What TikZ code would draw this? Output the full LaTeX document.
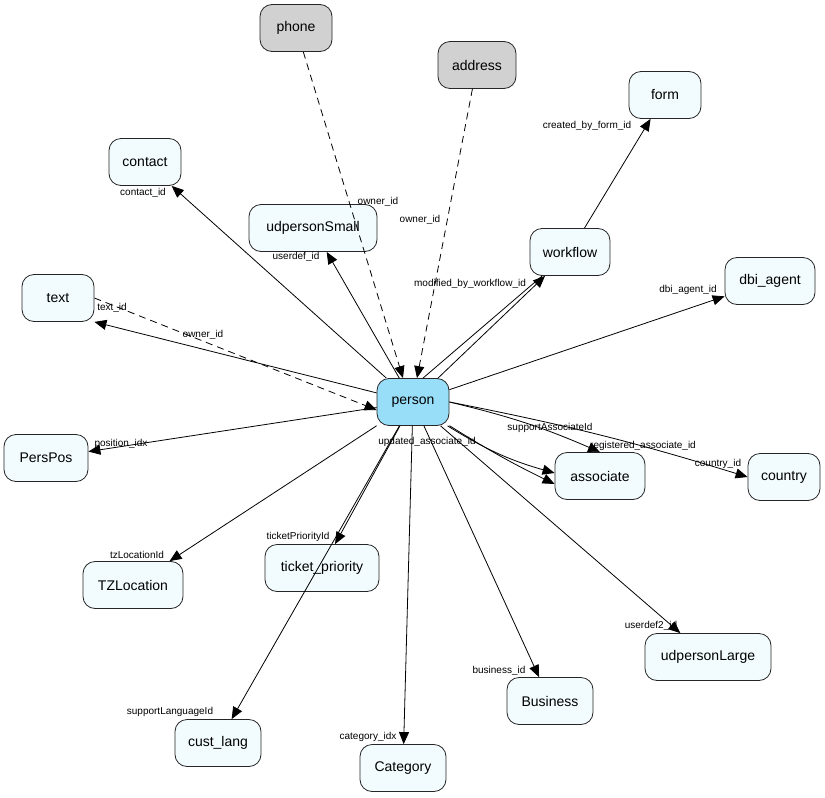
\documentclass[tikz,border=0pt]{standalone}
\usepackage{fontspec}
\setmainfont{Liberation Sans}
\usetikzlibrary{arrows.meta}
\begin{document}
\begin{tikzpicture}[x=1pt,y=-1pt,
 tb/.style={draw=black!85,line width=0.8pt,rounded corners=12pt,fill=cyan!5,minimum height=47pt,font=\fontsize{14}{16}\selectfont,inner sep=2pt},
 gr/.style={tb,fill=black!18},
 ed/.style={-{Triangle[length=12pt,width=10pt]},black,line width=0.8pt},
 da/.style={ed,dash pattern=on 7pt off 5pt},
 lb/.style={font=\fontsize{10}{11}\selectfont,inner sep=0pt}]
\useasboundingbox (0,0) rectangle (825,798);
\node[gr,minimum width=72pt] (phone) at (296,28) {phone};
\node[gr,minimum width=78pt] (address) at (477,65) {address};
\node[tb,minimum width=72pt] (form) at (665,95) {form};
\node[tb,minimum width=72pt] (contact) at (145,162) {contact};
\node[tb,minimum width=128pt] (uds) at (313,228) {udpersonSmall};
\node[tb,minimum width=80pt] (workflow) at (570,252) {workflow};
\node[tb,minimum width=90pt] (dbi) at (770,281) {dbi\_agent};
\node[tb,minimum width=72pt] (text) at (58,298) {text};
\node[tb,minimum width=72pt,fill=cyan!40] (person) at (413,402) {person};
\node[tb,minimum width=84pt] (perspos) at (46,458) {PersPos};
\node[tb,minimum width=90pt] (assoc) at (600,476) {associate};
\node[tb,minimum width=72pt] (country) at (784,477) {country};
\node[tb,minimum width=100pt] (tz) at (133,585) {TZLocation};
\node[tb,minimum width=114pt] (tp) at (322,568) {ticket\_priority};
\node[tb,minimum width=126pt] (udl) at (708,657) {udpersonLarge};
\node[tb,minimum width=86pt] (bus) at (550,701) {Business};
\node[tb,minimum width=86pt] (cl) at (218,743) {cust\_lang};
\node[tb,minimum width=86pt] (cat) at (403,768) {Category};

\draw[da] (phone) -- ([xshift=-10pt]person.north);
\draw[da] (address) -- ([xshift=4pt]person.north);
\draw[da] (text.east) -- ([yshift=-8pt]person.west);
\draw[ed] (person) -- (contact);
\draw[ed] (person) -- (uds);
\draw[ed] (person) -- (text.south east);
\draw[ed] (person) -- (workflow);
\draw[black,line width=0.8pt] ([xshift=10pt]person.north) -- (workflow);
\draw[ed] (workflow) -- (form);
\draw[ed] (person) -- (dbi);
\draw[ed] (person) -- (perspos);
\draw[ed] (person.east) to[bend left=5] (assoc.north);
\draw[ed] (person) to[bend right=3] ([yshift=-8pt]assoc.west);
\draw[ed] (person) to[bend right=8] ([yshift=3pt]assoc.west);
\draw[ed] (person.east) to[bend left=3] (country.west);
\draw[ed] (person) -- (tz);
\draw[ed] (person) -- (tp);
\draw[ed] (person) -- (cl);
\draw[ed] (person) -- (cat);
\draw[ed] (person) -- (bus);
\draw[ed] (person) -- (udl);

\node[lb] (l1) at (378,202) {owner\_id};
\node[lb] (l2) at (420,220) {owner\_id};
\node[lb] (l3) at (587,126) {created\_by\_form\_id};
\node[lb] (l4) at (143,193) {contact\_id};
\node[lb] (l5) at (296,257) {userdef\_id};
\node[lb] (l6) at (470,284) {modified\_by\_workflow\_id};
\node[lb] (l7) at (688,290) {dbi\_agent\_id};
\node[lb] (l8) at (112,308) {text\_id};
\node[lb] (l9) at (203,335) {owner\_id};
\node[lb] (l10) at (121,444) {position\_idx};
\node[lb] (l11) at (550,428) {supportAssociateId};
\node[lb] (l12) at (427,442) {updated\_associate\_id};
\node[lb] (l13) at (643,446) {registered\_associate\_id};
\node[lb] (l14) at (718,464) {country\_id};
\node[lb] (l15) at (137,555) {tzLocationId};
\node[lb] (l16) at (298,537) {ticketPriorityId};
\node[lb] (l17) at (651,626) {userdef2\_id};
\node[lb] (l18) at (499,671) {business\_id};
\node[lb] (l19) at (170,712) {supportLanguageId};
\node[lb] (l20) at (368,737) {category\_idx};
\end{tikzpicture}
\end{document}
